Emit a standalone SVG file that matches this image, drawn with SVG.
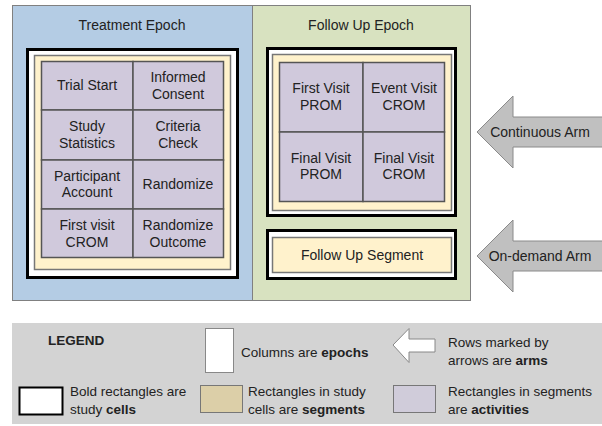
<svg xmlns="http://www.w3.org/2000/svg" width="602" height="426" viewBox="0 0 602 426">
<style>
text{font-family:"Liberation Sans",Arial,sans-serif;font-size:14px;fill:#222;text-anchor:middle}
.lg{font-size:13.5px;text-anchor:start}
.b{font-weight:bold}
.epoch{stroke:#808080;stroke-width:1}
.cell{fill:#fff;stroke:#000;stroke-width:3}
.seg{fill:#fff2cc;stroke:#777;stroke-width:1.5}
.act{fill:#d0c9dc;stroke:#555;stroke-width:1.5}
.arm{fill:#c0c0c0;stroke:#8a8a8a;stroke-width:1}
</style>
<rect x="0" y="0" width="602" height="426" fill="#fff"/>
<g id="treatment-epoch">
<rect class="epoch" x="12.5" y="5.5" width="240" height="295" fill="#b4cce4"/>
<text x="132" y="30">Treatment Epoch</text>
</g>
<g id="followup-epoch">
<rect class="epoch" x="252.5" y="5.5" width="218" height="295" fill="#d8e2c0"/>
<text x="361" y="30">Follow Up Epoch</text>
</g>
<g id="treatment-cell">
<rect class="cell" x="27.5" y="49.5" width="210" height="228"/>
<rect class="seg" x="34.5" y="55.5" width="196" height="214"/>
</g>
<g id="trial-start"><rect class="act" x="41.5" y="61.5" width="91.5" height="48.5"/><text x="87" y="90">Trial Start</text></g>
<g id="informed-consent"><rect class="act" x="133" y="61.5" width="90.5" height="48.5"/><text x="178" y="82">Informed</text><text x="178" y="98.5">Consent</text></g>
<g id="study-statistics"><rect class="act" x="41.5" y="110" width="91.5" height="50"/><text x="87" y="131">Study</text><text x="87" y="147.5">Statistics</text></g>
<g id="criteria-check"><rect class="act" x="133" y="110" width="90.5" height="50"/><text x="178" y="131">Criteria</text><text x="178" y="147.5">Check</text></g>
<g id="participant-account"><rect class="act" x="41.5" y="160" width="91.5" height="49"/><text x="87" y="180.5">Participant</text><text x="87" y="197">Account</text></g>
<g id="randomize"><rect class="act" x="133" y="160" width="90.5" height="49"/><text x="178" y="189">Randomize</text></g>
<g id="first-visit-crom"><rect class="act" x="41.5" y="209" width="91.5" height="48.5"/><text x="87" y="230">First visit</text><text x="87" y="246.5">CROM</text></g>
<g id="randomize-outcome"><rect class="act" x="133" y="209" width="90.5" height="48.5"/><text x="178" y="230">Randomize</text><text x="178" y="246.5">Outcome</text></g>
<g id="followup-cell-continuous">
<rect class="cell" x="267.5" y="48.5" width="188" height="167"/>
<rect class="seg" x="272.5" y="54.5" width="179" height="156"/>
</g>
<g id="first-visit-prom"><rect class="act" x="279.5" y="62.5" width="83.5" height="69.5"/><text x="321" y="93">First Visit</text><text x="321" y="109.5">PROM</text></g>
<g id="event-visit-crom"><rect class="act" x="363" y="62.5" width="81.5" height="69.5"/><text x="404" y="93">Event Visit</text><text x="404" y="109.5">CROM</text></g>
<g id="final-visit-prom"><rect class="act" x="279.5" y="132" width="83.5" height="69.5"/><text x="321" y="162.5">Final Visit</text><text x="321" y="179">PROM</text></g>
<g id="final-visit-crom"><rect class="act" x="363" y="132" width="81.5" height="69.5"/><text x="404" y="162.5">Final Visit</text><text x="404" y="179">CROM</text></g>
<g id="followup-cell-ondemand">
<rect class="cell" x="267.5" y="230.5" width="188" height="48"/>
<rect class="seg" x="272.5" y="237.5" width="179" height="35"/>
<text x="362" y="260">Follow Up Segment</text>
</g>
<g id="connectors">
<g id="continuous-arm"><polygon class="arm" points="477,132 513,96 513,117 603,117 603,147 513,147 513,168"/><text x="540" y="137">Continuous Arm</text></g>
<g id="ondemand-arm"><polygon class="arm" points="477,256 513,220 513,241 603,241 603,271 513,271 513,292"/><text x="540" y="261">On-demand Arm</text></g>
</g>
<g id="legend">
<rect x="12" y="323" width="591" height="101" fill="#d3d3d3"/>
<text class="lg b" x="48" y="345">LEGEND</text>
<rect x="205.5" y="328.5" width="28" height="44" fill="#fff" stroke="#888" stroke-width="1"/>
<text class="lg" x="241" y="357">Columns are <tspan class="b">epochs</tspan></text>
<polygon points="393,345 409,328.5 409,339 435,339 435,352 409,352 409,362.5" fill="#fff" stroke="#888" stroke-width="1"/>
<text class="lg" x="448" y="347">Rows marked by</text>
<text class="lg" x="448" y="365">arrows are <tspan class="b">arms</tspan></text>
<rect x="19.5" y="387.5" width="43" height="27" fill="#fff" stroke="#000" stroke-width="2"/>
<text class="lg" x="70" y="396">Bold rectangles are</text>
<text class="lg" x="70" y="414">study <tspan class="b">cells</tspan></text>
<rect x="200.5" y="385.5" width="42" height="27" fill="#dccfa8" stroke="#777" stroke-width="1"/>
<text class="lg" x="248" y="396">Rectangles in study</text>
<text class="lg" x="248" y="414">cells are <tspan class="b">segments</tspan></text>
<rect x="393.5" y="385.5" width="42" height="27" fill="#d0ccda" stroke="#777" stroke-width="1"/>
<text class="lg" x="448" y="396">Rectangles in segments</text>
<text class="lg" x="448" y="414">are <tspan class="b">activities</tspan></text>
</g>
</svg>
